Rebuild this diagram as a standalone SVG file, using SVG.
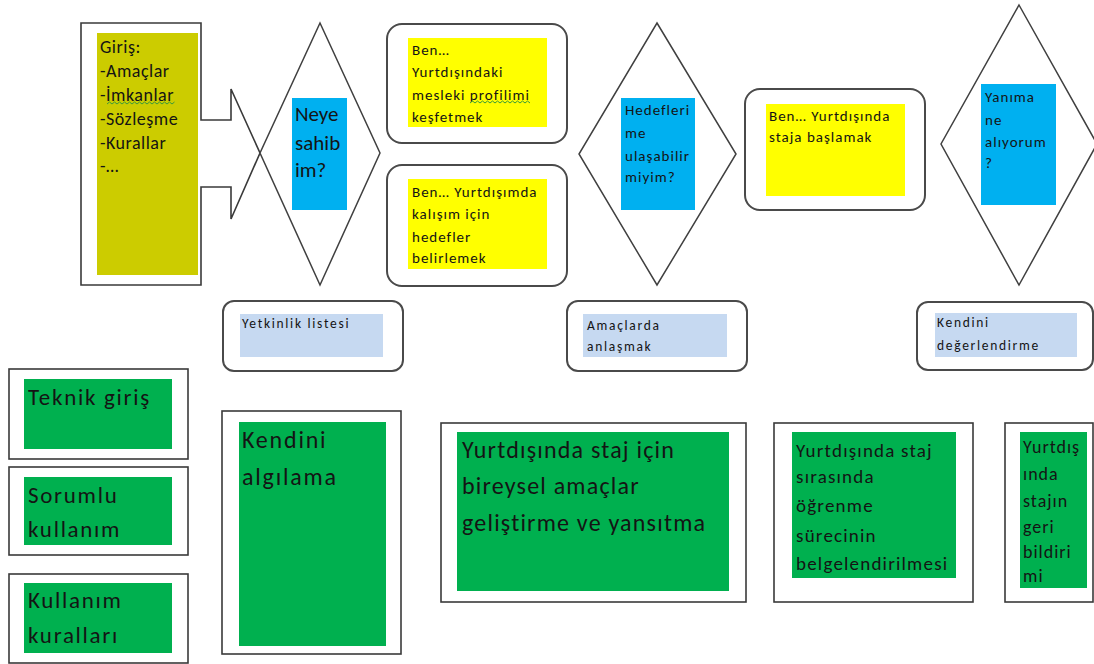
<svg xmlns="http://www.w3.org/2000/svg" width="1094" height="664" viewBox="0 0 1094 664">
<defs>
<style>
.t{font-family:Carlito,Lato,"Liberation Sans",sans-serif;fill:#141414}
.s{font-size:15px;letter-spacing:1px}
.xs{font-size:13.5px;letter-spacing:1.7px}
.l{font-size:23px;letter-spacing:1.7px}
.box{fill:#fff;stroke:#3a3a3a;stroke-width:1.6}
.rbox{fill:#fff;stroke:#4a4a4a;stroke-width:2}
.dia{fill:#fff;stroke:#404040;stroke-width:1.5}
.olive{fill:#CCCC00}
.yel{fill:#FFFF00}
.blue{fill:#00B0F0}
.lblue{fill:#C6D9F1}
.green{fill:#00B04F}
.sq{fill:none;stroke:#3a9a3a;stroke-width:1}
</style>
</defs>
<rect width="1094" height="664" fill="#fff"/>

<g id="giris">
<path class="box" d="M81,23 H201 V120 H231 V89 L260,153 L231,219 V187 H201 V285 H81 Z"/>
<rect class="olive" x="97" y="33" width="101" height="242"/>
<g class="t" font-size="18" letter-spacing="0.5">
<text x="100" y="53">Giriş:</text>
<text x="100" y="77">-Amaçlar</text>
<text x="100" y="101">-İmkanlar</text>
<text x="100" y="125">-Sözleşme</text>
<text x="100" y="149">-Kurallar</text>
<text x="100" y="172">-…</text>
</g>
<path class="sq" d="M107,104 l2.5,-2 l2.5,2 l2.5,-2 l2.5,2 l2.5,-2 l2.5,2 l2.5,-2 l2.5,2 l2.5,-2 l2.5,2 l2.5,-2 l2.5,2 l2.5,-2 l2.5,2 l2.5,-2 l2.5,2 l2.5,-2 l2.5,2 l2.5,-2 l2.5,2 l2.5,-2 l2.5,2 l2.5,-2 l2.5,2 l2.5,-2 l2.5,2 l2.5,-2"/>
</g>

<g id="neye">
<path class="dia" d="M320,23 L380,153 L320,285 L260,153 Z"/>
<rect class="blue" x="292" y="98" width="55" height="112"/>
<g class="t" font-size="21">
<text x="295" y="121">Neye</text>
<text x="295" y="150">sahib</text>
<text x="295" y="177">im?</text>
</g>
</g>

<g id="profil">
<rect class="rbox" x="387" y="24" width="180" height="119" rx="15"/>
<rect class="yel" x="408" y="38" width="139" height="89"/>
<g class="t s">
<text x="412" y="55">Ben…</text>
<text x="412" y="77">Yurtdışındaki</text>
<text x="412" y="100">mesleki profilimi</text>
<text x="412" y="122">keşfetmek</text>
</g>
<path class="sq" d="M470,103 l2.5,-2 l2.5,2 l2.5,-2 l2.5,2 l2.5,-2 l2.5,2 l2.5,-2 l2.5,2 l2.5,-2 l2.5,2 l2.5,-2 l2.5,2 l2.5,-2 l2.5,2 l2.5,-2 l2.5,2 l2.5,-2 l2.5,2 l2.5,-2 l2.5,2 l2.5,-2 l2.5,2 l2.5,-2 l2.5,2"/>
</g>

<g id="hedefler">
<rect class="rbox" x="387" y="165" width="180" height="121" rx="15"/>
<rect class="yel" x="408" y="179" width="139" height="90"/>
<g class="t s">
<text x="412" y="197">Ben… Yurtdışımda</text>
<text x="412" y="219">kalışım için</text>
<text x="412" y="242">hedefler</text>
<text x="412" y="263">belirlemek</text>
</g>
</g>

<g id="ulasabilir">
<path class="dia" d="M657,23 L736,154 L657,285 L579,154 Z"/>
<rect class="blue" x="621" y="98" width="74" height="112"/>
<g class="t s">
<text x="625" y="115">Hedefleri</text>
<text x="625" y="138">me</text>
<text x="625" y="161">ulaşabilir</text>
<text x="625" y="182">miyim?</text>
</g>
</g>

<g id="staja">
<rect class="rbox" x="745" y="89" width="180" height="121" rx="15"/>
<rect class="yel" x="766" y="104" width="139" height="92"/>
<g class="t s">
<text x="769" y="121">Ben… Yurtdışında</text>
<text x="769" y="142">staja başlamak</text>
</g>
</g>

<g id="yanima">
<path class="dia" d="M1019,5 L1097,144 L1019,285 L941,144 Z"/>
<rect class="blue" x="981" y="84" width="75" height="121"/>
<g class="t s">
<text x="985" y="102">Yanıma</text>
<text x="985" y="125">ne</text>
<text x="985" y="147">alıyorum</text>
<text x="985" y="168">?</text>
</g>
</g>

<g id="yetkinlik">
<rect class="rbox" x="223" y="301" width="180" height="70" rx="11"/>
<rect class="lblue" x="240" y="314" width="143" height="43"/>
<text class="t xs" x="242" y="328">Yetkinlik listesi</text>
</g>

<g id="anlasmak">
<rect class="rbox" x="567" y="301" width="180" height="70" rx="11"/>
<rect class="lblue" x="583" y="314" width="144" height="43"/>
<g class="t xs">
<text x="587" y="330">Amaçlarda</text>
<text x="587" y="351">anlaşmak</text>
</g>
</g>

<g id="degerlendirme">
<rect class="rbox" x="917" y="302" width="176" height="68" rx="11"/>
<rect class="lblue" x="935" y="313" width="142" height="44"/>
<g class="t xs">
<text x="937" y="327">Kendini</text>
<text x="937" y="350">değerlendirme</text>
</g>
</g>

<g id="teknik">
<rect class="box" x="9" y="369" width="179" height="90"/>
<rect class="green" x="24" y="379" width="148" height="70"/>
<text class="t l" x="28" y="405">Teknik giriş</text>
</g>

<g id="sorumlu">
<rect class="box" x="9" y="467" width="179" height="88"/>
<rect class="green" x="24" y="477" width="148" height="68"/>
<g class="t l">
<text x="28" y="503">Sorumlu</text>
<text x="28" y="537">kullanım</text>
</g>
</g>

<g id="kurallar">
<rect class="box" x="9" y="574" width="179" height="89"/>
<rect class="green" x="24" y="583" width="148" height="70"/>
<g class="t l">
<text x="28" y="608">Kullanım</text>
<text x="28" y="643">kuralları</text>
</g>
</g>

<g id="algilama">
<rect class="box" x="222" y="411" width="179" height="243"/>
<rect class="green" x="239" y="422" width="147" height="224"/>
<g class="t" font-size="24" letter-spacing="1.8">
<text x="242" y="448">Kendini</text>
<text x="242" y="485">algılama</text>
</g>
</g>

<g id="amaclar">
<rect class="box" x="441" y="423" width="305" height="179"/>
<rect class="green" x="457" y="432" width="272" height="159"/>
<g class="t" font-size="24" letter-spacing="1.2">
<text x="462" y="458">Yurtdışında staj için</text>
<text x="462" y="494">bireysel amaçlar</text>
<text x="462" y="531">geliştirme ve yansıtma</text>
</g>
</g>

<g id="belgelendirme">
<rect class="box" x="774" y="423" width="199" height="179"/>
<rect class="green" x="792" y="432" width="164" height="146"/>
<g class="t" font-size="19" letter-spacing="1.2">
<text x="796" y="457">Yurtdışında staj</text>
<text x="796" y="483">sırasında</text>
<text x="796" y="512">öğrenme</text>
<text x="796" y="542">sürecinin</text>
<text x="796" y="570">belgelendirilmesi</text>
</g>
</g>

<g id="geribildirim">
<rect class="box" x="1005" y="423" width="88" height="179"/>
<rect class="green" x="1020" y="432" width="67" height="156"/>
<g class="t" font-size="18" letter-spacing="1">
<text x="1023" y="453">Yurtdış</text>
<text x="1023" y="480">ında</text>
<text x="1023" y="507">stajın</text>
<text x="1023" y="533">geri</text>
<text x="1023" y="558">bildiri</text>
<text x="1023" y="582">mi</text>
</g>
</g>

<g id="connectors"></g>
</svg>
